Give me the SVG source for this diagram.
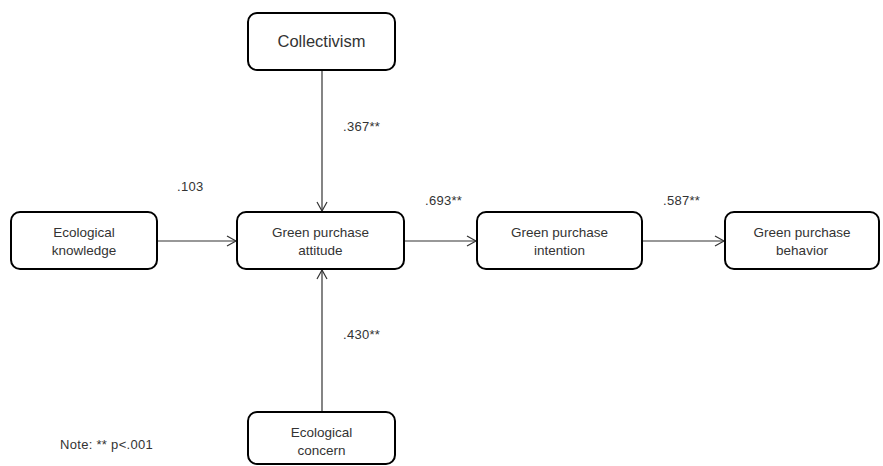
<svg xmlns="http://www.w3.org/2000/svg" width="883" height="466" viewBox="0 0 883 466">
<defs>
<style>
.box{fill:#fff;stroke:#000;stroke-width:2}
.t{font-family:"Liberation Sans",Arial,sans-serif;font-size:13.5px;fill:#333;text-anchor:middle}
.big{font-size:16.5px}
.n{font-family:"Liberation Sans",Arial,sans-serif;font-size:13px;fill:#333;letter-spacing:0.3px}
.c{fill:none;stroke:#333;stroke-width:1.2}
</style>
<marker id="ah" markerWidth="12" markerHeight="12" refX="10" refY="6" orient="auto" markerUnits="userSpaceOnUse">
<path d="M1,1 L10,6 L1,11" fill="none" stroke="#333" stroke-width="1.2"/>
</marker>
</defs>
<rect width="883" height="466" fill="#fff"/>
<g id="connectors">
<line class="c" x1="157" y1="241" x2="236" y2="241" marker-end="url(#ah)"/>
<line class="c" x1="404" y1="241" x2="476" y2="241" marker-end="url(#ah)"/>
<line class="c" x1="642" y1="241" x2="724" y2="241" marker-end="url(#ah)"/>
<line class="c" x1="322" y1="70" x2="322" y2="211" marker-end="url(#ah)"/>
<line class="c" x1="322" y1="412" x2="322" y2="270" marker-end="url(#ah)"/>
<text class="n" x="177" y="191">.103</text>
<text class="n" x="425" y="205">.693**</text>
<text class="n" x="663" y="205">.587**</text>
<text class="n" x="343" y="131">.367**</text>
<text class="n" x="343" y="339">.430**</text>
</g>
<g id="collectivism">
<rect class="box" x="248" y="13" width="147" height="57" rx="9"/>
<text class="t big" x="321.5" y="47">Collectivism</text>
</g>
<g id="ecological-knowledge">
<rect class="box" x="11" y="212" width="146" height="57" rx="9"/>
<text class="t" x="84" y="237">Ecological</text>
<text class="t" x="84" y="255">knowledge</text>
</g>
<g id="green-purchase-attitude">
<rect class="box" x="237" y="212" width="167" height="57" rx="9"/>
<text class="t" x="320.5" y="237">Green purchase</text>
<text class="t" x="320.5" y="255">attitude</text>
</g>
<g id="green-purchase-intention">
<rect class="box" x="477" y="212" width="165" height="57" rx="9"/>
<text class="t" x="559.5" y="237">Green purchase</text>
<text class="t" x="559.5" y="255">intention</text>
</g>
<g id="green-purchase-behavior">
<rect class="box" x="725" y="212" width="154" height="57" rx="9"/>
<text class="t" x="802" y="237">Green purchase</text>
<text class="t" x="802" y="255">behavior</text>
</g>
<g id="ecological-concern">
<rect class="box" x="248" y="412" width="147" height="52" rx="9"/>
<text class="t" x="321.5" y="437">Ecological</text>
<text class="t" x="321.5" y="455">concern</text>
</g>
<g id="note">
<text class="n" x="60" y="449">Note: ** p&lt;.001</text>
</g>
</svg>
